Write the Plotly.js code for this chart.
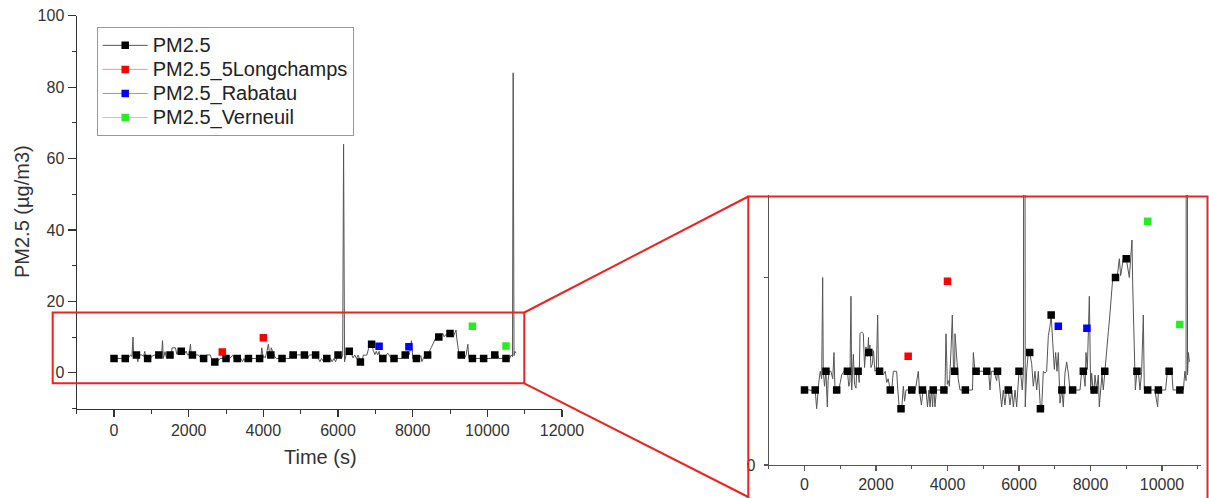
<!DOCTYPE html>
<html><head><meta charset="utf-8">
<script src="https://cdn.plot.ly/plotly-3.0.1.min.js"></script>
<style>html,body{margin:0;padding:0;background:#fff}#chart{width:1209px;height:498px}</style>
</head><body><div id="chart"></div><script>
// High-resolution PM2.5 trace (time in s, value in µg/m3)
const lineTime = [0,150,260,300,340,370,400,440,480,508,525,560,638,660,690,740,790,825,850,870,960,1000,1040,1100,1150,1240,1270,1300,1320,1366,1400,1440,1460,1530,1553,1600,1646,1680,1720,1760,1790,1830,1860,1900,1930,1970,2010,2047,2070,2150,2200,2260,2300,2340,2440,2485,2578,2610,2653,2720,2765,2800,2840,2900,3100,3184,3215,3270,3320,3400,3440,3480,3511,3550,3585,3620,3650,3690,3800,3930,3958,3996,4030,4052,4100,4135,4170,4210,4257,4300,4350,4420,4490,4600,4700,4723,4769,4900,5000,5150,5189,5230,5300,5376,5420,5469,5515,5560,5608,5650,5748,5800,5842,5890,5935,5982,6040,6093,6125,6149,6175,6215,6260,6355,6401,6448,6495,6541,6587,6634,6681,6728,6774,6821,6868,6942,6989,7026,7063,7101,7147,7194,7240,7287,7334,7380,7427,7600,7707,7754,7850,7874,7912,7968,8005,8033,8079,8126,8173,8219,8247,8284,8322,8359,8434,8499,8546,8593,8620,8660,8751,8807,8844,8881,8919,8975,9087,9124,9161,9180,9217,9255,9339,9385,9432,9478,9506,9800,9879,9945,10100,10151,10273,10310,10450,10599,10640,10674,10692,10715,10739,10767];
const lineValue = [4,4,3.9,4,3.0,4,4.4,5,4.6,10,5,4.2,3.1,4.5,5,5,4.6,6,4.2,4,4,4.4,4.8,5,4.9,4.2,4.4,9,4,5.9,4.3,4.1,5,4.4,7,7.1,7,5.2,6.3,5.8,6.8,6.4,5.2,5.4,6.1,5,5.1,8,5,5,4.8,5,4.4,4.6,4,5,5,4,3,3,4.2,3.4,4,4,4,5,4,3.2,4,4,3.1,4,3.1,4,3.1,4,3.1,4,4,4,7,4.3,4.5,4.2,6.2,8,5,7,5.7,4.6,4,4,4,4,4,6,5,5,5,5,4,5,5,4.5,5,4,3.1,4,3.2,4,3.2,4,3.1,4,3.1,5,5,4,5,64,3.1,5,6,5.4,4.2,5,4,5,3.5,3,5,4.9,5,6.9,7.4,6.3,5.1,6,5,6,3.3,4,3.1,4.9,5.5,4.9,4,4,4,5,4.2,6,5.1,9,4,4.9,3.8,4.8,4,4.8,3.1,4,4.8,4,6,7.1,8.1,9,9.9,10.1,10.1,11,10.1,10.7,11,11.1,10,11,12,9.7,6,4,5,4,5,8,4,4,3.1,4,4,5,5,4,4,4,5,4.5,84,4.8,6,5.5];
// PM2.5 symbols (every 300 s)
const markerTime = [0,300,600,900,1200,1500,1800,2100,2400,2700,3000,3300,3600,3900,4200,4500,4800,5100,5400,5700,6000,6300,6600,6900,7200,7500,7800,8100,8400,8700,9000,9300,9600,9900,10200,10500];
const markerValue = [4,4,5,4,5,5,6,5,4,3,4,4,4,4,5,4,5,5,5,4,5,6,3,8,4,4,5,4,5,10,11,5,4,4,5,4];
// Reference stations
const longchampsTime = [2900,4000];
const longchampsValue = [5.8,9.8];
const rabatauTime = [7100,7900];
const rabatauValue = [7.4,7.3];
const verneuilTime = [9600,10500];
const verneuilValue = [13,7.5];
// Tick labels
const mainXTicks = [0,2000,4000,6000,8000,10000,12000];
const mainYTicks = [0,20,40,60,80,100];
const insetXTicks = [0,2000,4000,6000,8000,10000];
const insetYTickVals = [0,10];
const insetYTickText = ['0',''];
const seriesNames = ['PM2.5','PM2.5_5Longchamps','PM2.5_Rabatau','PM2.5_Verneuil'];

const W = 1209, H = 498;
const px = x => x / W, py = y => 1 - y / H;
const FONT = 'Arial, "Liberation Sans", sans-serif';

const merged = lineTime.map((t,i)=>[t,lineValue[i]])
  .concat(markerTime.map((t,i)=>[t,markerValue[i]]))
  .sort((a,b)=>a[0]-b[0]);
const fullT = merged.map(p=>p[0]), fullV = merged.map(p=>p[1]);
function gapped(arr){ const out=[]; arr.forEach((v,i)=>{ if(i) out.push(null); out.push(v); }); return out; }

const LINE = '#555';
const groups = [
  {name: seriesNames[0], t: markerTime, v: markerValue, color: '#000000', lc: LINE},
  {name: seriesNames[1], t: longchampsTime, v: longchampsValue, color: '#ff0000', lc: 'rgba(255,0,0,0.45)'},
  {name: seriesNames[2], t: rabatauTime, v: rabatauValue, color: '#0000ff', lc: 'rgba(0,0,255,0.45)'},
  {name: seriesNames[3], t: verneuilTime, v: verneuilValue, color: '#22ee22', lc: 'rgba(0,220,0,0.45)'}
];

const traces = [];
[['x','y',true],['x2','y2',false]].forEach(([xa,ya,main])=>{
  traces.push({x: fullT, y: fullV, xaxis: xa, yaxis: ya, mode: 'lines',
    line: {color: LINE, width: 1}, showlegend: false, hoverinfo: 'skip'});
  groups.forEach(g=>{
    traces.push({x: gapped(g.t), y: gapped(g.v), xaxis: xa, yaxis: ya,
      name: '<span style="font-size:20px">' + g.name + '</span>',
      mode: 'lines+markers', connectgaps: false, showlegend: main,
      line: {color: g.lc, width: 1},
      marker: {symbol: 'square', size: 7.5, color: g.color}});
  });
});

const axBase = {showline: true, linecolor: '#333', linewidth: 1.2, ticks: 'outside', tickcolor: '#333',
  tickwidth: 1.2, showgrid: false, zeroline: false, automargin: false, fixedrange: true,
  tickformat: 'd',
  tickfont: {family: FONT, size: 16, color: '#333'}};

const layout = {
  width: W, height: H, margin: {l:0, r:0, t:0, b:0},
  paper_bgcolor: '#fff', plot_bgcolor: 'rgba(0,0,0,0)',
  font: {family: FONT, color: '#333'},
  xaxis: Object.assign({}, axBase, {domain: [px(76.7), px(562)], range: [-1000, 12000], anchor: 'y',
    tickmode: 'array', tickvals: mainXTicks, ticklen: 7,
    minor: {dtick: 1000, tick0: 0, ticks: 'outside', ticklen: 4, tickcolor: '#333', tickwidth: 1}}),
  yaxis: Object.assign({}, axBase, {domain: [py(408.5), py(15.7)], range: [-10, 100], anchor: 'x',
    tickmode: 'array', tickvals: mainYTicks, ticklen: 8,
    minor: {dtick: 10, tick0: 0, ticks: 'outside', ticklen: 4, tickcolor: '#333', tickwidth: 1}}),
  xaxis2: Object.assign({}, axBase, {domain: [px(768.75), px(1201.3)], range: [-1000, 11100], anchor: 'y2',
    tickmode: 'array', tickvals: insetXTicks, ticklen: 5, linecolor: '#555', tickcolor: '#555',
    minor: {dtick: 1000, tick0: 0, ticks: 'outside', ticklen: 3, tickcolor: '#555', tickwidth: 1}}),
  yaxis2: Object.assign({}, axBase, {domain: [py(465), py(195)], range: [0, 14.4], anchor: 'x2',
    tickmode: 'array', tickvals: insetYTickVals, ticktext: insetYTickText, ticklen: 4,
    ticklabelstandoff: 5, linecolor: '#555', tickcolor: '#555'}),
  legend: {x: px(96.7), y: py(27.3), xanchor: 'left', yanchor: 'top', bgcolor: '#fff',
    bordercolor: '#999', borderwidth: 1, font: {family: FONT, size: 16.2, color: '#222'},
    itemwidth: 45, tracegroupgap: 0},
  annotations: [
    {text: 'PM2.5 (µg/m3)', xref: 'paper', yref: 'paper', x: px(22), y: py(212), textangle: -90,
     showarrow: false, xanchor: 'center', yanchor: 'middle', font: {family: FONT, size: 20, color: '#333'}},
    {text: 'Time (s)', xref: 'paper', yref: 'paper', x: px(320), y: py(457),
     showarrow: false, xanchor: 'center', yanchor: 'middle', font: {family: FONT, size: 20, color: '#333'}}
  ],
  shapes: [
    {type: 'rect', xref: 'paper', yref: 'paper', x0: px(52.7), x1: px(524.3), y0: py(383.3), y1: py(312.5),
     line: {color: '#ee2222', width: 2}, layer: 'above'},
    {type: 'line', xref: 'paper', yref: 'paper', x0: px(524.3), y0: py(312.5), x1: px(748.3), y1: py(196.5),
     line: {color: '#ee2222', width: 2}},
    {type: 'line', xref: 'paper', yref: 'paper', x0: px(524.3), y0: py(383.3), x1: px(748.3), y1: py(497),
     line: {color: '#ee2222', width: 2}},
    {type: 'path', xref: 'paper', yref: 'paper',
     path: 'M' + px(748.3) + ',' + py(505) + ' L' + px(748.3) + ',' + py(196.5) + ' L' + px(1207.5) + ',' + py(196.5) + ' L' + px(1207.5) + ',' + py(505),
     line: {color: '#ee2222', width: 2}, layer: 'above'}
  ]
};

Plotly.newPlot('chart', traces, layout, {staticPlot: true, displayModeBar: false});
</script></body></html>
